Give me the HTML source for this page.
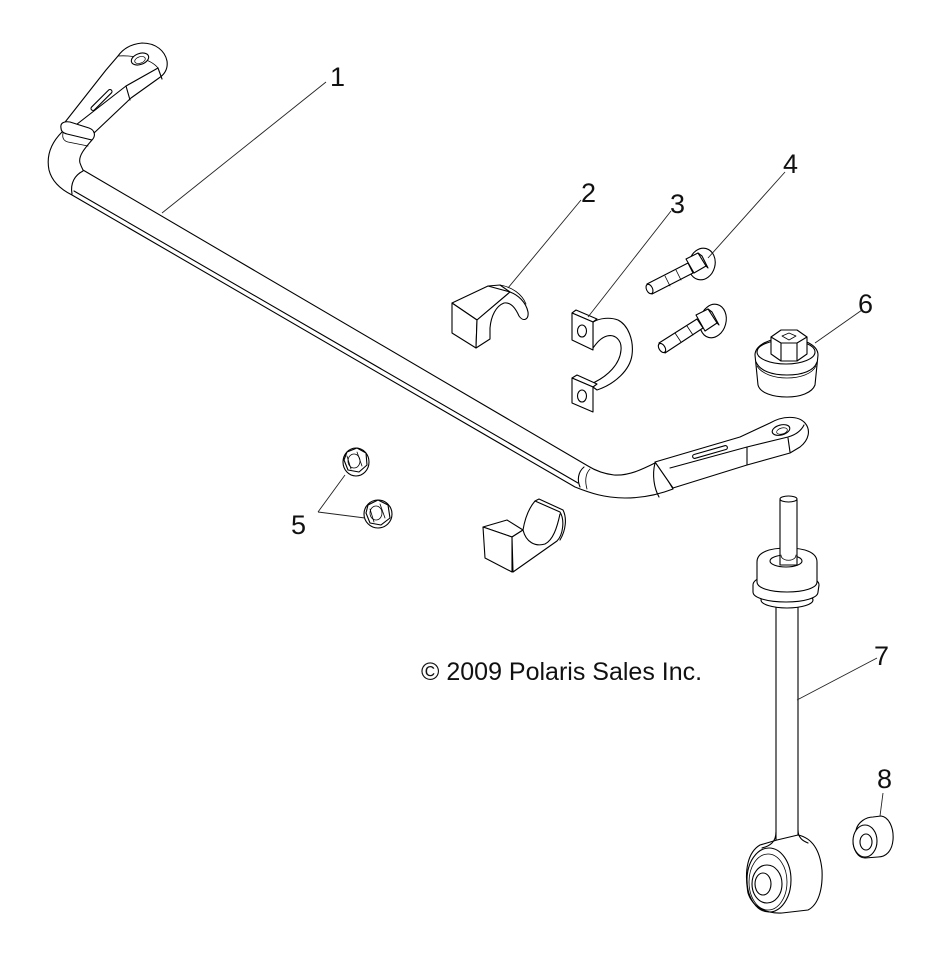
<!DOCTYPE html>
<html>
<head>
<meta charset="utf-8">
<style>
html,body{margin:0;padding:0;background:#fff;}
svg{display:block;}
text{font-family:"Liberation Sans",Arial,sans-serif;fill:#111;}
</style>
</head>
<body>
<svg width="942" height="963" viewBox="0 0 942 963" xmlns="http://www.w3.org/2000/svg">
<rect width="942" height="963" fill="#fff"/>
<g fill="#fff" stroke="#000" stroke-width="1.1" stroke-linejoin="round" stroke-linecap="round">

<!-- ===== Part 1: stabilizer bar ===== -->
<path d="M83,170 L588,466 C596,471 606,474 614,475 C630,476 645,468 657,462 L673,489 C655,496 640,498 625,498 C605,498 590,493 575,487 L72,195 C62,190 52,182 49,170 C46,155 52,142 62,132 L92,140 C85,148 78,156 80,163 C81,166 82,168 83,170 Z"/>
<path d="M74,191 L578,483" fill="none"/>
<path d="M83,171 C75,175 70,183 72,194" fill="none"/>
<path d="M584,467 C578,472 577,480 580,487" fill="none"/>
<path d="M590,469 C585,474 585,482 587,489" fill="none" stroke-width="0.8"/>
<path d="M655,463 C652,475 654,488 659,497" fill="none"/>
<path d="M670,467 C668,475 669,482 673,488" fill="none"/>

<!-- left end link -->
<path d="M62,126 L106,70 L118,56 C123,49 131,44 142,43 C156,43 165,51 167,61 C168,68 165,74 159,78 L131,98 L93,134 Z"/>
<path d="M72,128 L126,86 L158,68" fill="none"/>
<path d="M118,56 C130,55 150,58 158,68" fill="none" stroke-width="0.8"/>
<path d="M126,86 L130,100 M158,68 L162,79" fill="none"/>
<ellipse cx="140" cy="59" rx="9" ry="5.5" transform="rotate(-20 140 59)"/>
<ellipse cx="140" cy="60" rx="5.5" ry="3.2" transform="rotate(-20 140 60)" stroke-width="0.7"/>
<rect x="87.5" y="98" width="28" height="4" rx="2" transform="rotate(-45 101.5 100)"/>
<!-- left collar band -->
<path d="M61,128 C60,123 64,121 70,122 L89,128 C95,130 96,136 92,140 L67,134 C63,133 61,131 61,128 Z"/>
<path d="M63,133 C62,138 64,141 68,142 L88,146" fill="none" stroke-width="0.8"/>

<!-- right end link -->
<path d="M655,462 L740,437 L770,423 C782,416 798,415 805,423 C811,430 809,440 800,447 L790,453 L747,465 L673,488 Z"/>
<path d="M670,468 L747,447 L788,437 C795,435 801,431 804,425" fill="none"/>
<path d="M747,447 L747,465 M788,438 L790,452" fill="none"/>
<ellipse cx="781" cy="430" rx="9" ry="5" transform="rotate(-15 781 430)"/>
<ellipse cx="782" cy="431" rx="5.5" ry="3" transform="rotate(-15 782 431)" stroke-width="0.7"/>
<rect x="692" y="450" width="36" height="4" rx="2" transform="rotate(-16 710 452)"/>

<!-- ===== Part 2: upper bushing ===== -->
<path d="M452,303 L488,286 L510,292 L477,320 Z"/>
<path d="M452,303 L477,320 L476,348 L452,333 Z"/>
<path d="M477,320 L510,292 C518,295 526,302 528,312 C529,320 523,322 519,316 C515,307 510,302 504,303 C496,306 491,316 490,328 L490,339 L476,348 Z"/>
<path d="M488,286 L500,285 L510,292" fill="none"/>
<path d="M500,285 C512,287 522,294 526,304" fill="none" stroke-width="0.8"/>

<!-- ===== Part 2: lower bushing ===== -->
<path d="M483,527 L507,520 L523,530 L512,537 Z"/>
<path d="M483,527 L512,537 L512,572 L485,558 Z"/>
<path d="M512,537 L523,530 C525,518 529,508 535,501 L560,512 C565,520 563,535 557,541 L513,572 Z"/>
<path d="M523,530 C526,542 535,547 545,544 C553,540 557,528 560,514" fill="none"/>
<path d="M535,501 L539,499 L563,510 C567,518 566,530 560,540" fill="none"/>

<!-- ===== Part 3: clamp ===== -->
<path d="M593,322 C600,318 610,317 618,320 C628,325 634,340 632,355 C630,370 615,384 597,390 L593,387 L593,383 C608,376 620,364 621,350 C622,340 615,334 607,336 C600,338 596,344 593,348 Z"/>
<path d="M572,313 L576,310 L597,319 L593,322 Z"/>
<path d="M572,313 L593,322 L593,350 L572,340 Z"/>
<ellipse cx="582" cy="331" rx="4.5" ry="6"/>
<path d="M572,378 L577,375 L597,384 L593,387 Z"/>
<path d="M572,378 L593,387 L593,412 L572,403 Z"/>
<ellipse cx="582" cy="396" rx="4.5" ry="6"/>

<!-- ===== Part 4: bolts ===== -->
<ellipse cx="702" cy="264" rx="13" ry="16" transform="rotate(15 702 264)"/>
<path d="M686,259 L698,253 L706,266 L694,273 Z"/>
<path d="M698,253 L702,256 L708,268 L706,266" fill="none"/>
<path d="M647,284 L688,263 L693,273 L652,294 Z"/>
<ellipse cx="649.5" cy="289" rx="3" ry="5" transform="rotate(-26 649.5 289)"/>
<path d="M665,276 L670,286 M676,270 L681,280" fill="none" stroke-width="0.8"/>

<ellipse cx="713" cy="321" rx="13" ry="17" transform="rotate(15 713 321)"/>
<path d="M696,315 L708,309 L717,323 L705,331 Z"/>
<path d="M708,309 L712,312 L719,325 L717,323" fill="none"/>
<path d="M659,343 L697,319 L703,328 L665,353 Z"/>
<ellipse cx="662" cy="348" rx="3" ry="5" transform="rotate(-32 662 348)"/>
<path d="M675,333 L681,342 M687,326 L693,335" fill="none" stroke-width="0.8"/>

<!-- ===== Part 6: bushing nut ===== -->
<path d="M755,355 C755,345 770,338 786,338 C803,338 818,345 818,355 L815,385 C812,393 800,397 787,397 C773,397 760,393 758,385 Z"/>
<path d="M756,362 C760,371 772,375 787,375 C802,375 814,371 817,362" fill="none"/>
<path d="M757,366 C762,374 774,378 787,378 C800,378 812,374 816,366" fill="none" stroke-width="0.8"/>
<ellipse cx="786" cy="352" rx="29" ry="12"/>
<path d="M771,337 L781,330 L797,330 L807,337 L807,354 L797,361 L781,361 L771,354 Z"/>
<path d="M771,337 L781,343 L797,343 L807,337 M781,343 L781,361 M797,343 L797,361" fill="none"/>
<path d="M782,336 L789,333 L796,336 L789,340 Z" fill="none" stroke-width="0.8"/>

<!-- ===== Part 5: nuts ===== -->
<ellipse cx="356" cy="462" rx="13" ry="14"/>
<path d="M347,452 L357,448 L366,453 L367,465 L359,472 L348,470 L344,460 Z"/>
<path d="M347,456 L351,469 M357,452 L362,466" fill="none" stroke-width="0.8"/>
<ellipse cx="354" cy="461" rx="6" ry="7" fill="none" stroke-width="0.8"/>
<ellipse cx="378" cy="514" rx="14" ry="14"/>
<path d="M368,505 L378,500 L388,505 L390,518 L381,525 L370,523 L366,513 Z"/>
<path d="M370,509 L374,522 M380,504 L385,518" fill="none" stroke-width="0.8"/>
<ellipse cx="376" cy="513" rx="6" ry="7" fill="none" stroke-width="0.8"/>

<!-- ===== Part 7: end link ===== -->
<rect x="776" y="600" width="22" height="245"/>
<ellipse cx="787" cy="600" rx="26" ry="8"/>
<path d="M753,585 C753,578 768,574 786,574 C804,574 819,578 819,585 L818,592 C818,598 804,602 786,602 C768,602 753,598 753,592 Z"/>
<path d="M757,562 C757,552 770,548 787,548 C804,548 817,552 817,562 L817,582 C817,588 804,592 787,592 C770,592 757,588 757,582 Z"/>
<ellipse cx="786" cy="561" rx="16" ry="6"/>
<path d="M780,565 L780,500 C780,495 797,495 797,500 L797,565 Z"/>
<ellipse cx="788.5" cy="499" rx="8.5" ry="3"/>
<path d="M781,555 C781,562 796,562 796,555" fill="none" stroke-width="0.8"/>
<!-- bottom eye -->
<path d="M748,893 C744,870 748,852 760,845 L777,840 L798,835 C812,838 820,850 822,870 C823,890 818,905 808,910 L782,913 C765,914 752,906 748,893 Z"/>
<path d="M776,832 C776,842 770,846 762,848 M798,830 C798,838 803,841 808,843" fill="none"/>
<ellipse cx="769" cy="880" rx="22" ry="32" fill="none"/>
<ellipse cx="768" cy="882" rx="19" ry="28" fill="none" stroke-width="0.8"/>
<ellipse cx="767" cy="884" rx="15" ry="19"/>
<ellipse cx="763" cy="884" rx="8" ry="11"/>

<!-- ===== Part 8: spacer ===== -->
<path d="M856,830 C858,822 866,817 873,817 L881,816 C889,817 894,828 893,840 C892,851 886,857 878,857 L865,858 C858,858 853,850 853,840 Z"/>
<ellipse cx="865" cy="841" rx="12" ry="16"/>
<ellipse cx="866" cy="842" rx="6" ry="8"/>
</g>

<!-- ===== leader lines ===== -->
<g fill="none" stroke="#222" stroke-width="0.9">
<path d="M162,213 L326,82"/>
<path d="M508,288 L581,200"/>
<path d="M588,317 L671,211"/>
<path d="M708,258 L785,172"/>
<path d="M815,343 L862,310"/>
<path d="M318,512 L345,475 M318,512 L365,518"/>
<path d="M797,700 L877,658"/>
<path d="M883,793 L880,816"/>
</g>

<!-- ===== labels ===== -->
<g font-size="27">
<text x="330" y="86">1</text>
<text x="581" y="202">2</text>
<text x="670" y="213">3</text>
<text x="783" y="173">4</text>
<text x="291" y="534">5</text>
<text x="858" y="313">6</text>
<text x="874" y="665">7</text>
<text x="877" y="788">8</text>
</g>
<text x="421" y="680" font-size="25">© 2009 Polaris Sales Inc.</text>
</svg>
</body>
</html>
